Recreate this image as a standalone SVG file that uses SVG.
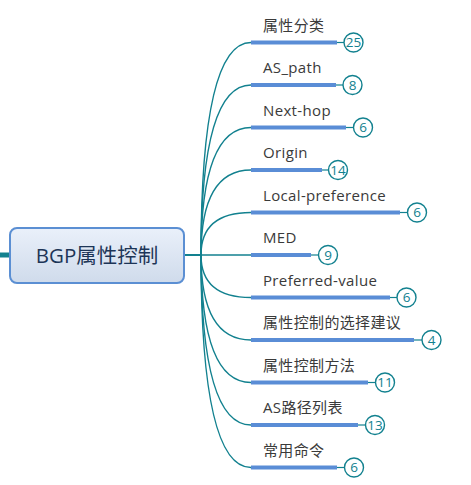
<svg xmlns="http://www.w3.org/2000/svg" width="471" height="485" viewBox="0 0 471 485">
<defs>
<linearGradient id="rootFill" x1="0" y1="0" x2="0" y2="1">
<stop offset="0" stop-color="#eaf0fa"/>
<stop offset="1" stop-color="#cfdbeb"/>
</linearGradient>
</defs>
<style>
.conn{fill:none;stroke:#12818f;stroke-width:1.4}
.tick{fill:none;stroke:#12818f;stroke-width:1.2}
.ul{stroke:#5a8dd6;stroke-width:4}
.lbl{font-family:"Open Sans","Noto Sans CJK SC",sans-serif;font-size:15px;fill:#3a3a3a;letter-spacing:0.35px}
.badge{fill:#fff;stroke:#12818f;stroke-width:1.4}
.num{font-family:"Open Sans",sans-serif;font-size:13.5px;fill:#12818f;text-anchor:middle}
</style>
<rect width="471" height="485" fill="#fff"/>
<g id="connectors">
<line x1="0" y1="255" x2="10" y2="255" stroke="#12818f" stroke-width="5"/>
<line x1="184" y1="255" x2="201" y2="255" stroke="#12818f" stroke-width="2"/>
<path class="conn" d="M201,255 Q201,42.5 251,42.5"/>
<path class="conn" d="M201,255 Q201,85 251,85"/>
<path class="conn" d="M201,255 Q201,127.5 251,127.5"/>
<path class="conn" d="M201,255 Q201,170 251,170"/>
<path class="conn" d="M201,255 Q201,212.5 251,212.5"/>
<path class="conn" d="M201,255 L251,255"/>
<path class="conn" d="M201,255 Q201,297.5 251,297.5"/>
<path class="conn" d="M201,255 Q201,340 251,340"/>
<path class="conn" d="M201,255 Q201,382.5 251,382.5"/>
<path class="conn" d="M201,255 Q201,425 251,425"/>
<path class="conn" d="M201,255 Q201,467.5 251,467.5"/>
</g>
<g id="root">
<rect x="10" y="228" width="174" height="55" rx="7" fill="url(#rootFill)" stroke="#5b8fd3" stroke-width="2"/>
<text x="97" y="263" text-anchor="middle" font-family="Open Sans,Noto Sans CJK SC,sans-serif" font-size="20.5" fill="#1d3557">BGP属性控制</text>
</g>
<g id="n1"><text class="lbl" x="263" y="30.8">属性分类</text><line class="ul" x1="251" y1="42.5" x2="337" y2="42.5"/><line class="tick" x1="337" y1="42.5" x2="344" y2="42.5"/><circle class="badge" cx="353.5" cy="42.5" r="9.5"/><text class="num" x="353.5" y="47.2">25</text></g>
<g id="n2"><text class="lbl" x="263" y="73.3">AS_path</text><line class="ul" x1="251" y1="85" x2="336" y2="85"/><line class="tick" x1="336" y1="85" x2="343" y2="85"/><circle class="badge" cx="352.5" cy="85" r="9.5"/><text class="num" x="352.5" y="89.7">8</text></g>
<g id="n3"><text class="lbl" x="263" y="115.8">Next-hop</text><line class="ul" x1="251" y1="127.5" x2="346" y2="127.5"/><line class="tick" x1="346" y1="127.5" x2="353.5" y2="127.5"/><circle class="badge" cx="363" cy="127.5" r="9.5"/><text class="num" x="363" y="132.2">6</text></g>
<g id="n4"><text class="lbl" x="263" y="158.3">Origin</text><line class="ul" x1="251" y1="170" x2="322" y2="170"/><line class="tick" x1="322" y1="170" x2="328.5" y2="170"/><circle class="badge" cx="338" cy="170" r="9.5"/><text class="num" x="338" y="174.7">14</text></g>
<g id="n5"><text class="lbl" x="263" y="200.8">Local-preference</text><line class="ul" x1="251" y1="212.5" x2="400" y2="212.5"/><line class="tick" x1="400" y1="212.5" x2="407.5" y2="212.5"/><circle class="badge" cx="417" cy="212.5" r="9.5"/><text class="num" x="417" y="217.2">6</text></g>
<g id="n6"><text class="lbl" x="263" y="243.3">MED</text><line class="ul" x1="251" y1="255" x2="311" y2="255"/><line class="tick" x1="311" y1="255" x2="318.5" y2="255"/><circle class="badge" cx="328" cy="255" r="9.5"/><text class="num" x="328" y="259.7">9</text></g>
<g id="n7"><text class="lbl" x="263" y="285.8">Preferred-value</text><line class="ul" x1="251" y1="297.5" x2="390" y2="297.5"/><line class="tick" x1="390" y1="297.5" x2="397" y2="297.5"/><circle class="badge" cx="406.5" cy="297.5" r="9.5"/><text class="num" x="406.5" y="302.2">6</text></g>
<g id="n8"><text class="lbl" x="263" y="328.3">属性控制的选择建议</text><line class="ul" x1="251" y1="340" x2="414" y2="340"/><line class="tick" x1="414" y1="340" x2="422" y2="340"/><circle class="badge" cx="431.5" cy="340" r="9.5"/><text class="num" x="431.5" y="344.7">4</text></g>
<g id="n9"><text class="lbl" x="263" y="370.8">属性控制方法</text><line class="ul" x1="251" y1="382.5" x2="368" y2="382.5"/><line class="tick" x1="368" y1="382.5" x2="375.5" y2="382.5"/><circle class="badge" cx="385" cy="382.5" r="9.5"/><text class="num" x="385" y="387.2">11</text></g>
<g id="n10"><text class="lbl" x="263" y="413.3">AS路径列表</text><line class="ul" x1="251" y1="425" x2="358" y2="425"/><line class="tick" x1="358" y1="425" x2="365.5" y2="425"/><circle class="badge" cx="375" cy="425" r="9.5"/><text class="num" x="375" y="429.7">13</text></g>
<g id="n11"><text class="lbl" x="263" y="455.8">常用命令</text><line class="ul" x1="251" y1="467.5" x2="337" y2="467.5"/><line class="tick" x1="337" y1="467.5" x2="344.5" y2="467.5"/><circle class="badge" cx="354" cy="467.5" r="9.5"/><text class="num" x="354" y="472.2">6</text></g>
</svg>
